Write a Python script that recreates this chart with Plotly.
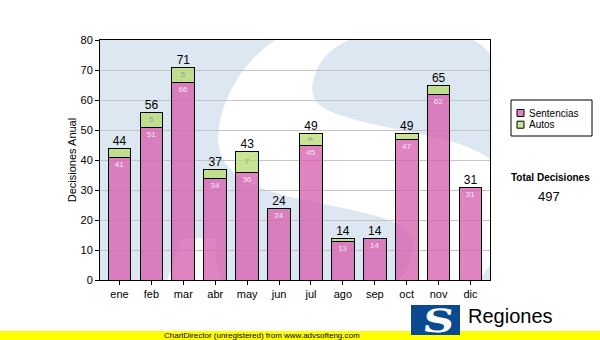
import base64
import plotly.graph_objects as go

# ---- data ----
months = ["ene", "feb", "mar", "abr", "may", "jun", "jul", "ago", "sep", "oct", "nov", "dic"]
sentencias = [41, 51, 66, 34, 36, 24, 45, 13, 14, 47, 62, 31]
autos = [3, 5, 5, 3, 7, 0, 4, 1, 0, 2, 3, 0]
series_names = ["Sentencias", "Autos"]
series_colors = ["rgba(214,96,176,0.78)", "rgba(180,220,110,0.75)"]
y_title = "Decisiones Anual"
total_title = "Total Decisiones"

totals = [s + a for s, a in zip(sentencias, autos)]
total_decisiones = sum(totals)

# ---- geometry helpers (pixel -> paper) ----
W, H = 600, 340
L, R, T, B = 100, 490, 40, 280


def px(x):
    return (x - L) / (R - L)


def py(y):
    return (B - y) / (B - T)


def svg_uri(svg):
    return "data:image/svg+xml;base64," + base64.b64encode(svg.encode("utf-8")).decode("ascii")


watermark = """<svg xmlns="http://www.w3.org/2000/svg" width="390" height="240" viewBox="0 0 390 240" preserveAspectRatio="none">
<rect width="390" height="240" fill="#dde7f1"/>
<text transform="translate(205,290) skewX(-20) scale(1.25,1)" font-family="DejaVu Serif" font-weight="bold" font-size="440" text-anchor="middle" fill="#ffffff">S</text>
</svg>"""

logo = """<svg xmlns="http://www.w3.org/2000/svg" width="49" height="30" viewBox="0 0 49 30" preserveAspectRatio="none">
<rect width="49" height="30" fill="#0b4a90"/>
<text transform="translate(26,27) skewX(-8) scale(1.35,1)" font-family="DejaVu Serif" font-weight="bold" font-size="32" text-anchor="middle" fill="#ffffff">S</text>
</svg>"""

sent_text = [str(v) for v in sentencias]
autos_text = [str(v) if v >= 4 else "" for v in autos]

fig = go.Figure()
fig.add_trace(go.Bar(
    x=months, y=sentencias, name=series_names[0],
    marker=dict(color=series_colors[0], line=dict(color="#000000", width=1)),
    text=sent_text, textposition="inside", insidetextanchor="end",
    constraintext="none",
    textfont=dict(family="Liberation Sans", size=8, color="#f6e8f2"),
    hoverinfo="skip", showlegend=False,
))
fig.add_trace(go.Bar(
    x=months, y=autos, name=series_names[1],
    marker=dict(color=series_colors[1], line=dict(color="#000000", width=1)),
    text=autos_text, textposition="inside", insidetextanchor="middle",
    constraintext="none",
    textfont=dict(family="Liberation Sans", size=8, color="#9a9a9a"),
    hoverinfo="skip", showlegend=False,
))
fig.add_trace(go.Scatter(
    x=months, y=totals, mode="text", text=[str(t) for t in totals],
    textposition="top center", showlegend=False, cliponaxis=False,
    textfont=dict(family="Liberation Sans", size=12, color="#000000"),
    hoverinfo="skip",
))

# ---- legend box drawn as shapes + text ----
shapes = [
    dict(type="rect", xref="paper", yref="paper",
         x0=px(0), x1=px(600), y0=py(331), y1=py(341),
         fillcolor="#ffff00", line=dict(width=0), layer="below"),
    dict(type="rect", xref="paper", yref="paper",
         x0=px(511), x1=px(592), y0=py(100), y1=py(136),
         fillcolor="#ffffff", line=dict(color="#000000", width=1)),
]
annotations = []
for i, (name, col) in enumerate(zip(series_names, series_colors)):
    yc = 113 + i * 11.7
    shapes.append(dict(type="rect", xref="paper", yref="paper",
                       x0=px(517), x1=px(524), y0=py(yc - 3.5), y1=py(yc + 3.5),
                       fillcolor=col, line=dict(color="#000000", width=1)))
    annotations.append(dict(text=name, x=px(527), y=py(yc), xanchor="left", yanchor="middle",
                            xref="paper", yref="paper", showarrow=False,
                            font=dict(family="Liberation Sans", size=10, color="#000000")))

annotations += [
    dict(text="<b>" + total_title + "</b>", x=px(550), y=py(177),
         xanchor="center", yanchor="middle",
         xref="paper", yref="paper", showarrow=False,
         font=dict(family="Liberation Sans", size=10, color="#000000")),
    dict(text=str(total_decisiones), x=px(549), y=py(196),
         xanchor="center", yanchor="middle",
         xref="paper", yref="paper", showarrow=False,
         font=dict(family="Liberation Sans", size=13, color="#000000")),
    dict(text="Regiones", x=px(466), y=py(316), xanchor="left", yanchor="middle",
         xref="paper", yref="paper", showarrow=False,
         font=dict(family="Liberation Sans", size=20, color="#000000")),
    dict(text="ChartDirector (unregistered) from www.advsofteng.com",
         x=px(262), y=py(335.5), xanchor="center", yanchor="middle",
         xref="paper", yref="paper", showarrow=False,
         font=dict(family="Liberation Sans", size=8, color="#000000")),
]

fig.update_layout(
    width=W, height=H,
    margin=dict(l=L, r=W - R, t=T, b=H - B, autoexpand=False),
    paper_bgcolor="#ffffff", plot_bgcolor="rgba(0,0,0,0)",
    barmode="stack", bargap=0.29,
    font=dict(family="Liberation Sans", size=11, color="#000000"),
    showlegend=False,
    xaxis=dict(
        showline=True, linecolor="#000000", linewidth=1, mirror=True,
        ticks="outside", ticklen=4, tickcolor="#000000",
        tickfont=dict(size=11), showgrid=False,
    ),
    yaxis=dict(
        range=[0, 80], dtick=10,
        showline=True, linecolor="#000000", linewidth=1, mirror=True,
        ticks="outside", ticklen=4, tickcolor="#000000",
        tickfont=dict(size=11),
        showgrid=True, gridcolor="#c4c4c4", gridwidth=1,
        zeroline=False,
        title=dict(text=y_title, font=dict(size=11), standoff=1),
    ),
    images=[
        dict(source=svg_uri(watermark), xref="paper", yref="paper",
             x=0, y=1, sizex=1, sizey=1, xanchor="left", yanchor="top",
             sizing="stretch", layer="below"),
        dict(source=svg_uri(logo), xref="paper", yref="paper",
             x=px(411), y=py(305), sizex=49 / 390, sizey=30 / 240,
             xanchor="left", yanchor="top", sizing="stretch", layer="above"),
    ],
    shapes=shapes,
    annotations=annotations,
)

fig.write_html("out.html")
